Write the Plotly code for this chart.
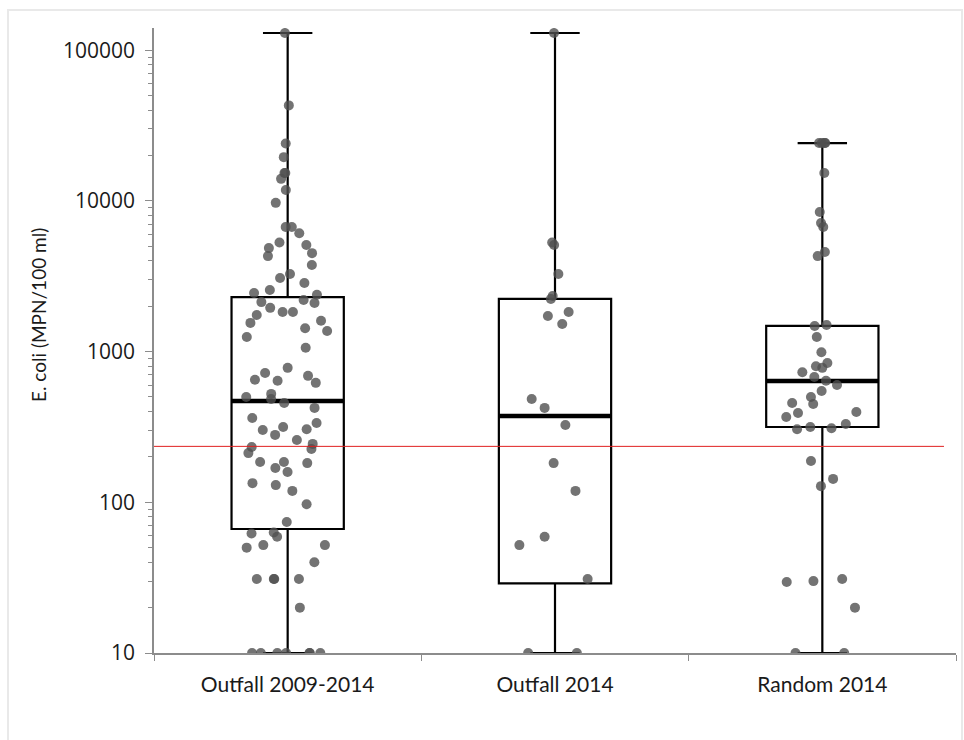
import plotly.graph_objects as go

categories = ["Outfall 2009-2014", "Outfall 2014", "Random 2014"]

outfall_2009_2014 = [130000, 43000, 24000, 19500, 15300, 15300, 14000, 11800, 9700, 6700, 6700,
                     6100, 5300, 5100, 4860, 4500, 4300, 3750, 3270, 3080, 2850, 2560, 2450, 2380,
                     2200, 2130, 2100, 1950, 1830, 1830, 1750, 1600, 1550, 1430, 1370, 1250, 1060,
                     780, 720, 690, 650, 640, 620, 524, 500, 485, 456, 423, 362, 336, 316, 305, 302,
                     280, 259, 244, 233, 226, 212, 185, 185, 182, 169, 159, 134, 130, 119, 97, 74,
                     63, 62, 59, 52, 52, 50, 40, 31, 31, 31, 31, 20, 10, 10, 10, 10, 10, 10, 10]
outfall_2014 = [130000, 5300, 5100, 3270, 2340, 2235, 1830, 1720, 1525, 485, 423, 326, 182, 119,
                59, 52, 31, 10, 10]
random_2014 = [24196, 24196, 24196, 24196, 15300, 8430, 7130, 6700, 4580, 4300, 1500, 1480, 1250,
               990, 840, 800, 780, 730, 678, 640, 600, 548, 500, 456, 449, 397, 391, 368, 331, 316,
               310, 305, 188, 143, 128, 31, 30, 29.6, 20, 10, 10]
series = [outfall_2009_2014, outfall_2014, random_2014]

box_min = [10, 10, 10]
box_q1 = [66.5, 29, 316]
box_median = [470, 374, 638]
box_q3 = [2300, 2235, 1480]
box_max = [130000, 130000, 24196]

threshold = 235

y_tick_vals = [10, 100, 1000, 10000, 100000]
y_tick_text = ["10", "100", "1000", "10000", "100000"]

BOX_W = 0.42
fig = go.Figure()

# boxes (whiskers to min / max)
fig.add_trace(go.Box(
    x=categories, q1=box_q1, median=box_median, q3=box_q3,
    lowerfence=box_min, upperfence=box_max,
    width=BOX_W, whiskerwidth=0.44,
    line=dict(color="black", width=2.2), fillcolor="rgba(0,0,0,0)",
    boxpoints=False, showlegend=False, hoverinfo="skip"))

# thicker median bar
fig.add_trace(go.Box(
    x=categories, q1=box_median, median=box_median, q3=box_median,
    lowerfence=box_median, upperfence=box_median,
    width=BOX_W, whiskerwidth=0,
    line=dict(color="black", width=4.5), fillcolor="rgba(0,0,0,0)",
    boxpoints=False, showlegend=False, hoverinfo="skip"))

# jittered points
for cat, vals in zip(categories, series):
    fig.add_trace(go.Box(
        x=[cat] * len(vals), y=vals, width=BOX_W,
        boxpoints="all", jitter=0.75, pointpos=0,
        line=dict(width=0, color="rgba(0,0,0,0)"), fillcolor="rgba(0,0,0,0)",
        marker=dict(color="rgba(80,80,80,0.8)", size=10, line=dict(width=0)),
        showlegend=False, hoverinfo="y"))

fig.add_shape(type="line", xref="paper", yref="y", x0=0, x1=0.985,
              y0=threshold, y1=threshold, line=dict(color="#e02020", width=1))

# outer chart border
fig.add_shape(type="rect", xref="paper", yref="paper",
              x0=-146 / 802, x1=808 / 802, y0=-92 / 625, y1=643 / 625,
              line=dict(color="#e9e9e9", width=2), fillcolor="rgba(0,0,0,0)")

fig.add_annotation(text="E. coli (MPN/100 ml)", textangle=-90, xref="paper", yref="paper",
                   x=-116 / 802, y=338 / 625, showarrow=False, xanchor="center", yanchor="middle",
                   font=dict(family="Lato", size=19, color="#1a1a1a"))

fig.update_layout(
    width=964, height=740,
    margin=dict(l=154, r=8, t=28, b=87),
    paper_bgcolor="white", plot_bgcolor="white",
    boxmode="overlay", showlegend=False,
    xaxis=dict(type="category", showline=True, linecolor="#8c8c8c", linewidth=1.5,
               ticks="outside", tickson="boundaries", ticklen=6, tickcolor="#8c8c8c",
               ticklabelstandoff=12,
               showgrid=False, zeroline=False,
               tickfont=dict(family="Lato", size=21, color="#1a1a1a"),
               range=[-0.5, 2.5]),
    yaxis=dict(type="log", range=[1, 5.147], showline=True, linecolor="#8c8c8c", linewidth=1.5,
               tickmode="array", tickvals=y_tick_vals, ticktext=y_tick_text,
               ticks="outside", ticklen=7, tickcolor="#8c8c8c", ticklabelstandoff=6,
               minor=dict(ticks="outside", ticklen=4, tickcolor="#8c8c8c",
                          tickvals=[m * 10 ** k for k in range(1, 6) for m in range(2, 10)]),
               showgrid=False, zeroline=False,
               tickfont=dict(family="Open Sans", size=21, color="#1a1a1a")),
)

fig.write_html("out.html")
